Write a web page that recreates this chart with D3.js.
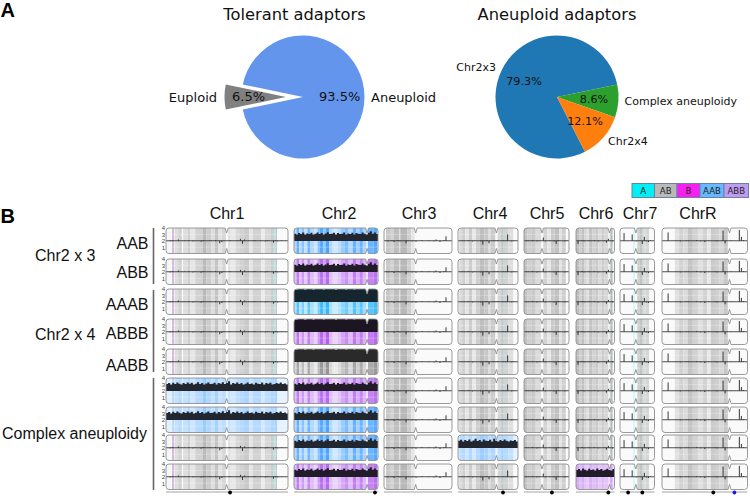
<!DOCTYPE html>
<html><head><meta charset="utf-8">
<script src="https://cdn.jsdelivr.net/npm/d3@7/dist/d3.min.js"></script>
<style>html,body{margin:0;background:#fff}svg{display:block}</style></head>
<body><svg id="c" width="750" height="496"></svg>
<script>
// ---------- data ----------
const tolerantLabels=["Aneuploid","Euploid"];
const tolerantValues=[93.5,6.5];
const adaptorLabels=["Chr2x3","Complex aneuploidy","Chr2x4"];
const adaptorValues=[79.3,8.6,12.1];
const legendLabels=["A","AB","B","AAB","ABB"];
const chromosomes=["Chr1","Chr2","Chr3","Chr4","Chr5","Chr6","Chr7","ChrR"];
const rowNames=["AAB","ABB","AAAB","ABBB","AABB","c1","c2","c3","c4"];
const centromeres=[49.7,87,46.6,64,40,87,46,79];
const chr2States=["AAB","ABB","AAAB","ABBB","AABB","ABB","AAB","AAB","ABB"];
const chr1States=["AB","AB","AB","AB","AB","AAB","AAB","AB","AB"];
const chr4States=["AB","AB","AB","AB","AB","AB","AB","AAB","AB"];
const chr6States=["AB","AB","AB","AB","AB","AB","AB","AB","ABB"];
// heterozygosity bands: [start %, end %, strength]
const bands=[
 [[0,4,.03],[5,6.5,.3],[7,10,.2],[10,13,.28],[14,18,.2],[18,20,.3],[20,24,.14],[24,30,.28],[30,33,.45],[33,37,.32],[37,40,.2],[40,43,.38],[43,46,.16],[46,49,.26],[51,53,.2],[53,57,.12],[57,60,.24],[60,64,.28],[64,68,.34],[68,71,.14],[71,78,.28],[78,81,.1],[81,86,.24],[86,89,.32],[89,91,.36]],
 [[0,3,.3],[3,6,.75],[6,9,.25],[9,12,.55],[12,16,.2],[16,19,.7],[19,24,.3],[24,28,.15],[28,31,.55],[31,35,.85],[35,38,.5],[38,42,.9],[42,46,.3],[46,52,.12],[52,56,.25],[56,60,.45],[60,65,.6],[65,70,.3],[70,74,.75],[74,78,.4],[78,82,.7],[82,86,.35],[88,95,.7],[95,99,.85]],
 [[3,10,.35],[10,14,.28],[14,22,.42],[22,24,.2],[24,34,.46],[34,40,.3],[40,45,.15]],
 [[2,7,.22],[7,12,.3],[12,18,.15],[18,24,.32],[24,30,.12],[30,36,.3],[36,44,.42],[44,50,.36],[50,54,.2],[54,62,.32],[66,72,.25],[72,76,.38],[76,84,.28],[84,92,.2]],
 [[0,8,.4],[8,16,.3],[16,26,.34],[26,38,.22],[43,52,.28],[52,60,.14],[60,68,.34],[68,78,.4],[78,84,.16],[84,93,.3]],
 [[0,8,.42],[8,14,.3],[14,22,.4],[22,28,.26],[28,34,.18],[34,42,.38],[42,50,.28],[50,58,.34],[58,66,.22],[66,74,.32],[74,84,.25],[88,95,.45]],
 [[50,58,.3],[58,66,.38],[66,74,.22],[74,84,.26]],
 [[15,20,.18],[20,25,.28],[25,30,.22],[30,36,.38],[36,42,.28],[42,48,.18],[48,53,.28],[53,57,.12],[57,62,.34],[62,67,.3],[67,72,.24],[72,77,.36]]
];
const accents=[[[5,6.4,"#d8b6e2"],[88,90,"#bfe4e0"]],[],[],[[74,75.5,"#a9d6d6"]],[],[[88,90,"#bfe4e0"]],[[39,42,"#b6f4f6"],[68,70,"#bce9ec"]],[]];
// coverage trace along each chromosome (copy number)
const traces=[
 [2,2,1.9,2.1,2,2,2.2,2,1.95,2.05,2,2.1,2,1.9,2.05,2,2,1.85,2.1,2,2,2.05,1.95,2,2.1,2,1.6,1.8,2.05,2,2,2.1,2,2,2.05,1.95,2.3,1.5,2.2,2,2.05,2,1.95,2.1,2,2,2.05,2,1.9,2.1,2,2,1.7,2.1,1.9,2,2.05,2,2,2],
 [2,2.05,1.95,2,2.1,2,2,1.9,2.05,2,2,2.1,2,1.95,2,2.05,2,2,1.9,2,2.1,2,2,2.05,1.95,2,2,2.1,2,1.9,2,2.05,2,2,2.05,2,1.95,2,2.1,2,2,2],
 [2,2.05,1.9,2,2.1,1.8,2,2.1,1.9,2,2,1.6,2.05,2,1.9,2.05,1.85,2,2,2.1,2,2,1.95,2.05,2,1.9,2.2,2,1.8,2,2.1,2.7,2,2,2],
 [2,2,2.05,1.95,2,2.1,2,1.9,2.05,2,2,1.9,1.4,2.05,2.1,1.6,2,2.05,1.95,2.1,2,2,2.05,1.95,3,2,1.9,2.05,2,2],
 [2,2.05,1.95,2,2.1,2,1.9,2.05,2,2.5,1.9,2,2.05,2,1.9,1.5,2.1,2,2,1.9,2.05,2],
 [2,1.5,2,2.1,1.9,2,2.05,1.95,2,2.1,2,1.9,2,2,2.05,1.7,2.3,2,1.9,2],
 [2,2,3.2,2,2,2,3,2,1.9,2,2,1.5,2.6,1.9,1.8,2.05,2,2],
 [2,2,2,3.3,2,2,2,2.05,2,1.9,2,2,2.05,1.95,2,2,2,2.1,2,1.9,2,1.8,2,2.05,2,2,2.05,1.9,2,2,3.6,1.6,2,2,2.05,2,2,2,3.7,2.6,2.1,2,2]
];
// top of the solid coverage block on gained chromosomes
const blockTops=[
 [3.05,3.2,3,3.25,3.05,3.3,3.1,3,3.2,3.05,3.3,3.1,3.25,3,3.1,3.35,3.05,3.2,3,3.15,3.3,3.05,3.1,3.25,3,3.2,3.1,3.35,3.05,3.2,3.5,3,3.2,3.1,3.3,3.05,3.2,3,3.1,3.3,3.05,3.15,3,3.25,3.1,3.05,3.3,3,3.2,3.1,3.25,3,3.05,3.2,3.1,3.3,3.05,3.15,3,3.2],
 [3.1,3,3.2,3.05,3.3,3,3.15,3.05,3.25,3,3.1,3.3,3.05,3.2,3,3.15,3.35,3.05,3.1,3.25,3,3.2,3.05,3.1,3.3,3,3.15,3.05,3.25,3,3.2,3.1,3.05,3.3,3.1,3,3.25,3.5,3.1,3.3,3.05,3.2],
 null,
 [3.1,3.25,3,3.2,3.05,3.3,3,3.15,3.4,3.05,3.2,3,3.3,3.1,3.05,3.25,3,3.4,3.1,3,3.2,3.05,3.3,3.1,3,3.15,3.05,3.2,3,3.1],
 null,
 [3.05,3.2,3,3.3,3.1,3,3.25,3.05,3.15,3,3.3,3.05,3.2,3,3.1,3.25,3.05,3,3.2,3.1],
 null,null
];
const markers=[[52.5],[96.4],[],[75],[62],[84],[23.5,64.7],[60]];
const blueMarkers=[[],[],[],[],[],[],[],[84.7]];
const tickValues=[1,2,3,4];

// ---------- layout ----------
const svg=d3.select("#c");
const DJ="'DejaVu Sans'",LS="'Liberation Sans'";
const text=(x,y,s,size,font,anchor="start",weight="normal",fill="#111")=>svg.append("text").attr("x",x).attr("y",y).attr("font-family",font).attr("font-size",size).attr("text-anchor",anchor).attr("font-weight",weight).attr("fill",fill).attr("dominant-baseline","central").text(s);
text(0.5,10,"A",20,LS,"start","bold","#000");
text(0.5,215.5,"B",20,LS,"start","bold","#000");

// pies
const rad=d3.scaleLinear([0,360],[0,2*Math.PI]);
function pie(cx,cy,r,vals,start,colors,explode){
  const arcs=d3.pie().sort(null).startAngle(rad(start)).endAngle(rad(start+360))(vals);
  const arc=d3.arc().innerRadius(0).outerRadius(r);
  const g=svg.append("g").attr("transform",`translate(${cx},${cy})`);
  g.selectAll("path").data(arcs).join("path").attr("d",arc).attr("fill",(d,i)=>colors[i])
   .attr("transform",(d,i)=>{const m=(d.startAngle+d.endAngle)/2,e=explode[i]||0;return `translate(${e*Math.sin(m)},${-e*Math.cos(m)})`;});
}
pie(303,97,61.5,tolerantValues,-78.3,["#6495ed","#808080"],[0,17]);
pie(557,97,61.5,adaptorValues,-207.1,["#1f77b4","#2ca02c","#ff7f0e"],[0,0,0]);
text(294.5,14,"Tolerant adaptors",16.3,DJ,"middle");
text(557,14,"Aneuploid adaptors",16.3,DJ,"middle");
text(217,97,tolerantLabels[1],13,DJ,"end");
text(371,97,tolerantLabels[0],13,DJ,"start");
text(232,96.5,tolerantValues[1]+"%",13,DJ,"start");
text(319,96.5,tolerantValues[0]+"%",13,DJ,"start");
text(496,67.5,adaptorLabels[0],11,DJ,"end");
text(624.5,101,adaptorLabels[1],11,DJ,"start");
text(608,141.5,adaptorLabels[2],11,DJ,"start");
text(524,81,adaptorValues[0]+"%",11.2,DJ,"middle");
text(594,99.5,adaptorValues[1]+"%",11.2,DJ,"middle");
text(585,121,adaptorValues[2]+"%",11.2,DJ,"middle");

// legend
const legendX=[632,654.5,677,700,724,748.5];
const legendFill=["#00f0f5","#b9b9b9","#f91ff0","#66b8ff","#c09cf0"];
legendLabels.forEach((l,i)=>{
  svg.append("rect").attr("x",legendX[i]).attr("y",183.5).attr("width",legendX[i+1]-legendX[i]).attr("height",14).attr("fill",legendFill[i]).attr("stroke","#6a80a8").attr("stroke-width",1);
  text((legendX[i]+legendX[i+1])/2,190.5,l,8.6,DJ,"middle","normal","#222");
});

// row labels
[[148.5,243.5,"AAB","end"],[148.5,272.5,"ABB","end"],[148.5,304,"AAAB","end"],[148.5,333.5,"ABBB","end"],[148.5,365,"AABB","end"],[35,255,"Chr2 x 3","start"],[35,334,"Chr2 x 4","start"],[2,433.5,"Complex aneuploidy","start"]]
 .forEach(d=>text(d[0],d[1],d[2],16,LS,d[3]));
[[228,284],[290,372],[378,490]].forEach(b=>svg.append("line").attr("x1",153.5).attr("x2",153.5).attr("y1",b[0]).attr("y2",b[1]).attr("stroke","#666").attr("stroke-width",1.6));

// chromosome columns
const rowY=[228,259,289,319,349,378,407,435,464],rowH=25.5;
const colX=[[166,288],[294,378],[384,452],[458,518],[524,569],[576,614.5],[620,654.5],[662,747.5]];
const titleX=[227,339,419,490,547,596,640,698];
chromosomes.forEach((c,i)=>text(titleX[i],213,c,16,LS,"middle"));

const stateColor={AB:"#8c8c8c",AAB:"#4aa4ff",ABB:"#aa50ee",AAAB:"#34b8fb",ABBB:"#aa45ea",AABB:"#8f8f8f"};
const stateBase={AB:0.04,AAB:0.14,ABB:0.14,AAAB:0.14,ABBB:0.14,AABB:0.05};
const stateGain={AB:1.25,AAB:0.95,ABB:0.8,AAAB:0.95,ABBB:0.8,AABB:1};
const blockColor={AAB:"#23262d",ABB:"#241f2a",AAAB:"#18262e",ABBB:"#1e1622",AABB:"#2a2a2a"};
const stateOf=(r,c)=>c===0?chr1States[r]:c===1?chr2States[r]:c===3?chr4States[r]:c===5?chr6States[r]:"AB";
const yScale=d3.scaleLinear([0,4],[rowH,0]);
const defs=svg.append("defs");
defs.append("filter").attr("id","soft").attr("x","-2%").attr("y","-5%").attr("width","104%").attr("height","110%").append("feGaussianBlur").attr("stdDeviation",0.45);

function outline(x0,x1,cen,h){
  const n=5,w=1.5,r=3;
  return `M${cen},${n}L${cen-w},0H${x0+r}Q${x0},0 ${x0},${r}V${h-r}Q${x0},${h} ${x0+r},${h}H${cen-w}L${cen},${h-n}L${cen+w},${h}H${x1-r}Q${x1},${h} ${x1},${h-r}V${r}Q${x1},0 ${x1-r},0H${cen+w}Z`;
}
chromosomes.forEach((name,c)=>{
  const x=d3.scaleLinear([0,100],colX[c]);
  const idx=d3.scaleLinear([0,traces[c].length-1],colX[c]);
  const cx=x(centromeres[c]);
  const shape=outline(colX[c][0],colX[c][1],cx,rowH);
  defs.append("clipPath").attr("id","clip"+c).append("path").attr("d",shape);
  rowY.forEach((ry,r)=>{
    const st=stateOf(r,c);
    const g=svg.append("g").attr("transform",`translate(0,${ry})`);
    const body=g.append("g").attr("clip-path",`url(#clip${c})`).append("g").attr("filter","url(#soft)");
    const col=d3.interpolateRgb("#ffffff",stateColor[st]);
    body.append("rect").attr("x",colX[c][0]).attr("width",colX[c][1]-colX[c][0]).attr("y",-2).attr("height",rowH+4).attr("fill",col(stateBase[st]));
    body.selectAll("rect.b").data(bands[c]).join("rect").attr("x",d=>x(d[0])).attr("width",d=>x(d[1])-x(d[0])).attr("y",-2).attr("height",rowH+4)
      .attr("fill",d=>col(stateBase[st]+d[2]*stateGain[st]));
    if(st==="AB") body.selectAll("rect.a").data(accents[c]).join("rect").attr("x",d=>x(d[0])).attr("width",d=>x(d[1])-x(d[0])).attr("y",-2).attr("height",rowH+4).attr("fill",d=>d[2]);
    body.selectAll("line.g").data([1,3]).join("line").attr("x1",colX[c][0]).attr("x2",colX[c][1]).attr("y1",d=>yScale(d)).attr("y2",d=>yScale(d)).attr("stroke","#fff").attr("stroke-opacity",.45).attr("stroke-width",.6);
    if(st!=="AB"){
      const k=st.length===4?1.9:1;
      const top=blockTops[c];
      const ix=d3.scaleLinear([0,top.length-1],colX[c]);
      const area=d3.area().x((d,i)=>ix(i)).y0(yScale(2)+.3).y1(d=>yScale(2+(d-2)*k)).curve(d3.curveStepAfter);
      body.append("path").attr("d",area(top)).attr("fill",blockColor[st]);
    } else {
      body.append("line").attr("x1",colX[c][0]).attr("x2",colX[c][1]).attr("y1",yScale(2)).attr("y2",yScale(2)).attr("stroke","#222").attr("stroke-width",.8);
      body.selectAll("line.s").data(traces[c]).join("line").attr("x1",(d,i)=>idx(i)).attr("x2",(d,i)=>idx(i)).attr("y1",yScale(2)).attr("y2",d=>yScale(d)).attr("stroke","#222").attr("stroke-width",.9);
    }
    g.append("path").attr("d",shape).attr("fill","none").attr("stroke","#8f8f8f").attr("stroke-width",.9);
    if(c===0){
      const ax=d3.axisLeft(yScale).tickValues(tickValues).tickSize(0).tickPadding(0.5).tickFormat(d3.format("d"));
      const a=g.append("g").attr("transform",`translate(${colX[0][0]-0.5},0)`).call(ax);
      a.select(".domain").remove();
      a.selectAll("text").attr("font-size",6).attr("font-family",LS).attr("fill","#444");
    }
  });
  svg.append("line").attr("x1",colX[c][0]).attr("x2",colX[c][1]).attr("y1",492).attr("y2",492).attr("stroke","#999").attr("stroke-width",.9);
  svg.selectAll(null).data(markers[c]).join("circle").attr("cx",d=>x(d)).attr("cy",492.5).attr("r",1.9).attr("fill","#000");
  svg.selectAll(null).data(blueMarkers[c]).join("circle").attr("cx",d=>x(d)).attr("cy",492.5).attr("r",1.9).attr("fill","#1a1aee");
});
</script></body></html>
